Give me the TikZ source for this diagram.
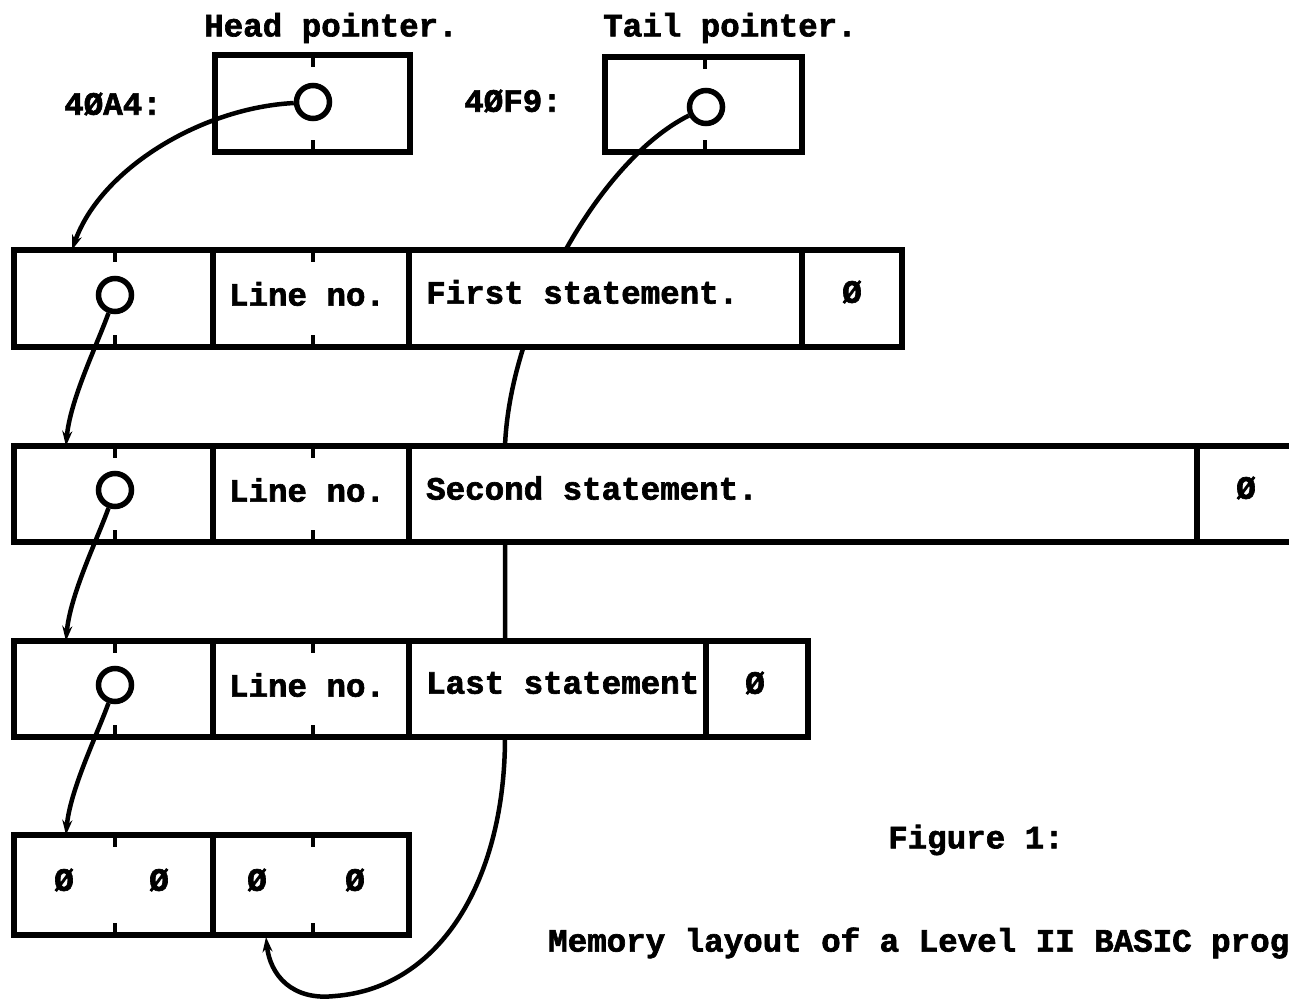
\documentclass[tikz,border=0pt]{standalone}
\usepackage{fontspec}
\setmonofont{Liberation Mono}[BoldFeatures={FakeBold=2}]
\usetikzlibrary{arrows.meta}
\begin{document}
\begin{tikzpicture}[x=1pt,y=-1pt,
  cell/.style={draw, line width=5.5pt, fill=white, inner sep=0pt, outer sep=0pt},
  ring/.style={draw, circle, line width=5.5pt, minimum size=33pt, inner sep=0pt},
  tickmark/.style={line width=4pt},
  link/.style={line width=4.5pt, -{Stealth[length=15pt,width=10pt]}},
  lbl/.style={font=\fontsize{32.5}{36}\selectfont\ttfamily\bfseries, inner sep=0pt},
]
\useasboundingbox (0,0) rectangle (1289,1003);
\clip (0,0) rectangle (1289,1003);

% pointer boxes
\node[cell, minimum width=195pt, minimum height=97pt] (hb) at (312.5,103.5) {};
\node[cell, minimum width=197pt, minimum height=95pt] (tb) at (703.5,104.5) {};
\node[ring] (hc) at (313,102) {};
\node[ring] (tc) at (706,107) {};

% tail pointer path (hidden behind rows)
\coordinate (tA) at (505,446);
\coordinate (tB) at (505,737);
\coordinate (tLow) at (335,996);
\coordinate (tEnd) at (266,937);
\draw[line width=4.5pt] (tc) .. controls (600,160) and (510,320) .. (tA) -- (tB)
  .. controls (505,880) and (440,988) .. (tLow);
\draw[link] (tLow) .. controls (292,1001) and (270,975) .. (tEnd);

% row 1
\node[cell, minimum width=199pt, minimum height=97pt] (r1a) at (113.5,298.5) {};
\node[cell, minimum width=196pt, minimum height=97pt] (r1b) at (311,298.5) {};
\node[cell, minimum width=393pt, minimum height=97pt] (r1c) at (605.5,298.5) {};
\node[cell, minimum width=100pt, minimum height=97pt] (r1d) at (852,298.5) {};
% row 2
\node[cell, minimum width=199pt, minimum height=96pt] (r2a) at (113.5,494) {};
\node[cell, minimum width=196pt, minimum height=96pt] (r2b) at (311,494) {};
\node[cell, minimum width=788pt, minimum height=96pt] (r2c) at (803,494) {};
\node[cell, minimum width=123pt, minimum height=96pt] (r2d) at (1258.5,494) {};
% row 3
\node[cell, minimum width=199pt, minimum height=96pt] (r3a) at (113.5,689) {};
\node[cell, minimum width=196pt, minimum height=96pt] (r3b) at (311,689) {};
\node[cell, minimum width=297pt, minimum height=96pt] (r3c) at (557.5,689) {};
\node[cell, minimum width=102pt, minimum height=96pt] (r3d) at (757,689) {};
% row 4
\node[cell, minimum width=199pt, minimum height=100pt] (r4a) at (113.5,885) {};
\node[cell, minimum width=196pt, minimum height=100pt] (r4b) at (311,885) {};

% ticks
\foreach \x/\yt/\yb in {313/55/152, 705/57/152,
  115/250/347, 313/250/347, 115/446/542, 313/446/542,
  115/641/737, 313/641/737, 115/835/935, 313/835/935}{
  \draw[tickmark] (\x,\yt) -- (\x,\yt+12);
  \draw[tickmark] (\x,\yb) -- (\x,\yb-12);
}

% link circles in rows
\node[ring] (c1) at (115,295) {};
\node[ring] (c2) at (115,490) {};
\node[ring] (c3) at (115,685) {};

% texts
\node[lbl] (hl) at (331,28) {Head pointer.};
\node[lbl] (tl) at (730,28) {Tail pointer.};
\node[lbl] (ha) at (113,104) {4ØA4:};
\node[lbl] (ta) at (513,101) {4ØF9:};
\node[lbl] (n1) at (307,294) {Line no.};
\node[lbl] (n2) at (307,490) {Line no.};
\node[lbl] (n3) at (307,685) {Line no.};
\node[lbl, anchor=west] (s1) at (426,292) {First statement.};
\node[lbl, anchor=west] (s2) at (426,488) {Second statement.};
\node[lbl, anchor=west] (s3) at (426,683) {Last statement};
\node[lbl] (z1) at (852,292) {Ø};
\node[lbl] (z2) at (1246,488) {Ø};
\node[lbl] (z3) at (755,683) {Ø};
\node[lbl] (z4a) at (64,880) {Ø};
\node[lbl] (z4b) at (159,880) {Ø};
\node[lbl] (z4c) at (257,880) {Ø};
\node[lbl] (z4d) at (355,880) {Ø};
\node[lbl, anchor=west] (fig) at (888,840) {Figure 1:};
\node[lbl, anchor=west] (cap) at (548,943) {Memory layout of a Level II BASIC prog};

% pointers
\coordinate (h1) at (72,250);
\coordinate (t2) at (66,446);
\coordinate (t3) at (66,641);
\coordinate (t4) at (66,835);
\draw[link] (hc) .. controls (200,108) and (100,170) .. (h1);
\draw[link] (c1) .. controls (97,345) and (70,400) .. (t2);
\draw[link] (c2) .. controls (97,540) and (70,595) .. (t3);
\draw[link] (c3) .. controls (97,735) and (70,790) .. (t4);
\end{tikzpicture}
\end{document}
